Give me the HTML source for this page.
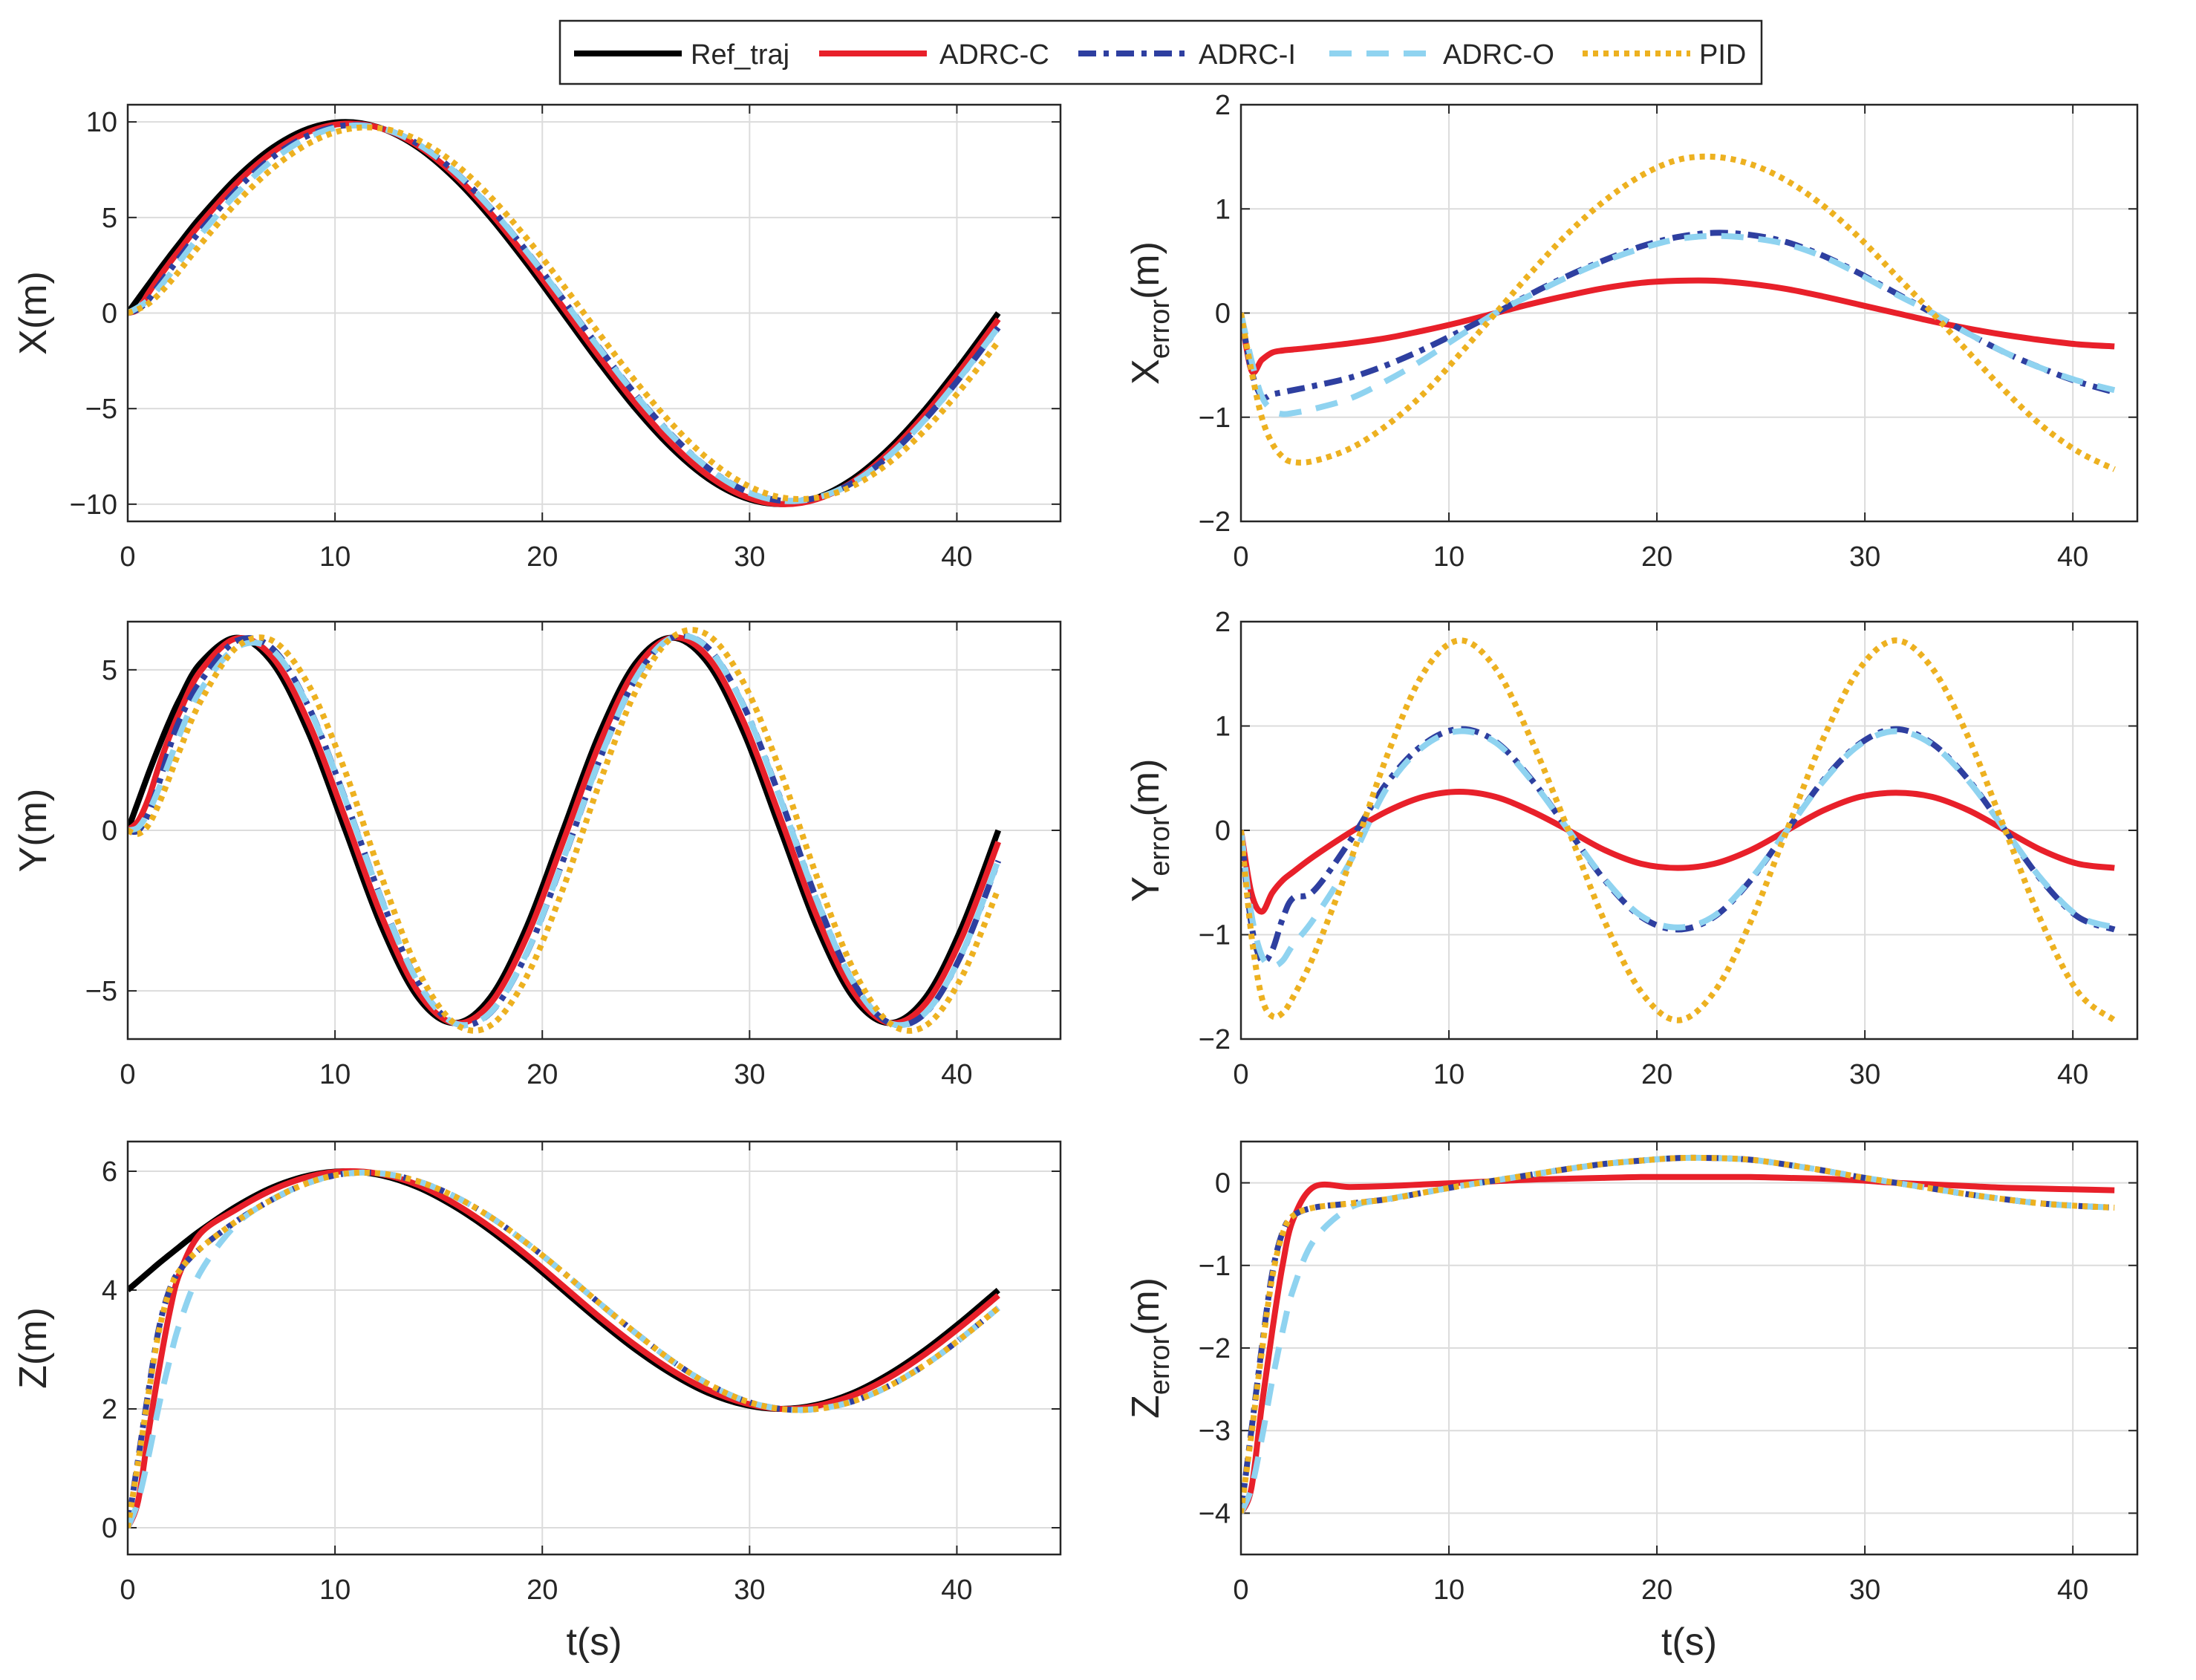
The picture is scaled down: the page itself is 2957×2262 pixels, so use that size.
<!DOCTYPE html>
<html><head><meta charset="utf-8"><style>
html,body{margin:0;padding:0;background:#fff}
svg{display:block}
text{font-family:"Liberation Sans",Arial,sans-serif;fill:#262626}
</style></head><body>
<svg id="fig" width="2957" height="2262" viewBox="0 0 2957 2262" xmlns="http://www.w3.org/2000/svg">
<rect width="2957" height="2262" fill="#fff"/>
<g id="legend">
<rect x="754" y="28" width="1618" height="85" fill="#fff" stroke="#262626" stroke-width="2.5"/>
<g><line x1="773" y1="72" x2="918" y2="72" stroke="#000" stroke-width="8"/><text x="930" y="86" font-size="38">Ref_traj</text></g>
<g><line x1="1103" y1="72" x2="1248" y2="72" stroke="#E8202A" stroke-width="8"/><text x="1265" y="86" font-size="38">ADRC-C</text></g>
<g><line x1="1452" y1="72" x2="1599" y2="72" stroke="#2E3FA0" stroke-width="8" stroke-dasharray="24,10,7,10"/><text x="1614" y="86" font-size="38">ADRC-I</text></g>
<g><line x1="1790" y1="72" x2="1933" y2="72" stroke="#8FD3F0" stroke-width="8" stroke-dasharray="30,20"/><text x="1943" y="86" font-size="38">ADRC-O</text></g>
<g><line x1="2131" y1="72" x2="2276" y2="72" stroke="#EDB120" stroke-width="8" stroke-dasharray="7,7"/><text x="2288" y="86" font-size="38">PID</text></g>
</g>
</svg>
<script>
const t = [0,0.5,1,1.5,2,2.5,3.5,5.25,7,8.75,10.5,12.25,14,15.75,17.5,19.25,21,22.75,24.5,26.25,28,29.75,31.5,33.25,35,36.75,38.5,40.25,42];
const xTicks = [0,10,20,30,40];
// reference trajectories
const refX = [0,0.75,1.49,2.23,2.95,3.65,5.0,7.07,8.66,9.66,10,9.66,8.66,7.07,5.0,2.59,0,-2.59,-5,-7.07,-8.66,-9.66,-10,-9.66,-8.66,-7.07,-5,-2.59,0];
const refY = [0,0.89,1.77,2.60,3.38,4.08,5.20,6,5.20,3,0,-3,-5.2,-6,-5.2,-3,0,3,5.2,6,5.2,3,0,-3,-5.2,-6,-5.2,-3,0];
const refZ = [4,4.15,4.30,4.45,4.59,4.73,5,5.41,5.73,5.93,6,5.93,5.73,5.41,5,4.52,4,3.48,3,2.59,2.27,2.07,2,2.07,2.27,2.59,3,3.48,4];
// X errors
const exC = [0,-0.55,-0.45,-0.38,-0.36,-0.35,-0.33,-0.29,-0.24,-0.17,-0.09,0.0,0.09,0.17,0.24,0.29,0.31,0.31,0.28,0.23,0.16,0.08,0.0,-0.08,-0.15,-0.21,-0.26,-0.3,-0.32];
const exI = [0,-0.55,-0.8,-0.78,-0.76,-0.74,-0.7,-0.62,-0.5,-0.35,-0.18,0.0,0.19,0.36,0.51,0.64,0.73,0.77,0.75,0.68,0.55,0.38,0.19,0.0,-0.2,-0.38,-0.53,-0.66,-0.76];
const exO = [0,-0.45,-0.8,-0.93,-0.97,-0.96,-0.92,-0.82,-0.65,-0.45,-0.22,0.0,0.18,0.35,0.5,0.62,0.71,0.74,0.72,0.66,0.54,0.37,0.18,0.0,-0.2,-0.38,-0.53,-0.65,-0.74];
const exP = [0,-0.55,-1.0,-1.25,-1.38,-1.43,-1.42,-1.3,-1.08,-0.78,-0.4,0.0,0.4,0.77,1.08,1.32,1.47,1.5,1.43,1.27,1.03,0.72,0.36,0.0,-0.38,-0.75,-1.08,-1.33,-1.5];
// Y errors
const eyC = [0,-0.6,-0.78,-0.6,-0.48,-0.4,-0.25,-0.02,0.18,0.32,0.37,0.32,0.18,0.0,-0.19,-0.32,-0.36,-0.32,-0.19,0.0,0.19,0.32,0.36,0.32,0.19,0.0,-0.19,-0.32,-0.36];
const eyI = [0,-0.9,-1.25,-1.15,-0.85,-0.65,-0.58,-0.1,0.45,0.82,0.97,0.85,0.48,0.0,-0.48,-0.83,-0.95,-0.83,-0.48,0.0,0.48,0.83,0.97,0.83,0.48,0.0,-0.48,-0.83,-0.95];
const eyO = [0,-0.8,-1.2,-1.3,-1.25,-1.1,-0.85,-0.3,0.4,0.8,0.95,0.84,0.47,0.0,-0.47,-0.82,-0.93,-0.82,-0.47,0.0,0.47,0.82,0.95,0.82,0.47,0.0,-0.47,-0.82,-0.93];
const eyP = [0,-1.0,-1.6,-1.78,-1.75,-1.6,-1.2,-0.3,0.7,1.5,1.82,1.55,0.85,0.0,-0.88,-1.55,-1.82,-1.55,-0.88,0.0,0.88,1.55,1.82,1.55,0.88,0.0,-0.88,-1.55,-1.82];
// Z errors
const ezC = [-4,-3.7,-2.7,-1.8,-1.0,-0.45,-0.05,-0.05,-0.04,-0.02,0.0,0.02,0.04,0.05,0.06,0.07,0.07,0.07,0.07,0.06,0.05,0.03,0.0,-0.02,-0.04,-0.06,-0.07,-0.08,-0.09];
const ezI = [-4,-3.0,-2.0,-1.1,-0.6,-0.4,-0.3,-0.25,-0.2,-0.12,-0.04,0.03,0.1,0.17,0.23,0.27,0.3,0.3,0.28,0.22,0.15,0.07,0.0,-0.07,-0.14,-0.2,-0.25,-0.28,-0.3];
const ezO = [-4,-3.7,-3.1,-2.4,-1.8,-1.3,-0.7,-0.3,-0.2,-0.12,-0.04,0.03,0.1,0.17,0.23,0.27,0.3,0.3,0.28,0.22,0.15,0.07,0.0,-0.07,-0.14,-0.2,-0.25,-0.28,-0.3];
const ezP = [-4,-3.05,-2.05,-1.15,-0.62,-0.4,-0.3,-0.25,-0.2,-0.12,-0.04,0.03,0.1,0.17,0.23,0.27,0.3,0.3,0.28,0.22,0.15,0.07,0.0,-0.07,-0.14,-0.2,-0.25,-0.28,-0.3];
const yTicksX = [-10,-5,0,5,10];
const yTicksY = [-5,0,5];
const yTicksZ = [0,2,4,6];
const yTicksE = [-2,-1,0,1,2];
const yTicksEZ = [-4,-3,-2,-1,0];

const NS='http://www.w3.org/2000/svg';
const svg=document.getElementById('fig');
function mk(tag,attrs,parent){const e=document.createElementNS(NS,tag);for(const k in attrs)e.setAttribute(k,attrs[k]);(parent||svg).appendChild(e);return e;}
const styles={
 ref:{stroke:'#000','stroke-width':8},
 c:{stroke:'#E8202A','stroke-width':8},
 i:{stroke:'#2E3FA0','stroke-width':8,'stroke-dasharray':'24,10,7,10'},
 o:{stroke:'#8FD3F0','stroke-width':8,'stroke-dasharray':'30,20'},
 p:{stroke:'#EDB120','stroke-width':8,'stroke-dasharray':'7,7'}
};
function add(a,b){return a.map((v,k)=>v+b[k]);}
function smoothPath(pts){
 let d='M'+pts[0][0].toFixed(1)+','+pts[0][1].toFixed(1);
 for(let i=0;i<pts.length-1;i++){
  const p0=pts[Math.max(0,i-1)],p1=pts[i],p2=pts[i+1],p3=pts[Math.min(pts.length-1,i+2)];
  const c1x=p1[0]+(p2[0]-p0[0])/6,c1y=p1[1]+(p2[1]-p0[1])/6;
  const c2x=p2[0]-(p3[0]-p1[0])/6,c2y=p2[1]-(p3[1]-p1[1])/6;
  d+=' C'+c1x.toFixed(1)+','+c1y.toFixed(1)+' '+c2x.toFixed(1)+','+c2y.toFixed(1)+' '+p2[0].toFixed(1)+','+p2[1].toFixed(1);
 }
 return d;
}
const L={x0:172,x1:1428,xmax:45}, R={x0:1671,x1:2878,xmax:43.1};
const rows=[{y0:141,y1:702},{y0:837,y1:1399},{y0:1537,y1:2093}];
const panels=[
 {name:'x-position',col:L,row:rows[0],ymin:-10.9,ymax:10.9,ticks:yTicksX,label:'X(m)',sub:null,series:[['ref',refX],['c',add(refX,exC)],['i',add(refX,exI)],['o',add(refX,exO)],['p',add(refX,exP)]]},
 {name:'x-error',col:R,row:rows[0],ymin:-2,ymax:2,ticks:yTicksE,label:'X',sub:'error',series:[['c',exC],['i',exI],['o',exO],['p',exP]]},
 {name:'y-position',col:L,row:rows[1],ymin:-6.5,ymax:6.5,ticks:yTicksY,label:'Y(m)',sub:null,series:[['ref',refY],['c',add(refY,eyC)],['i',add(refY,eyI)],['o',add(refY,eyO)],['p',add(refY,eyP)]]},
 {name:'y-error',col:R,row:rows[1],ymin:-2,ymax:2,ticks:yTicksE,label:'Y',sub:'error',series:[['c',eyC],['i',eyI],['o',eyO],['p',eyP]]},
 {name:'z-position',col:L,row:rows[2],ymin:-0.45,ymax:6.5,ticks:yTicksZ,label:'Z(m)',sub:null,series:[['ref',refZ],['c',add(refZ,ezC)],['i',add(refZ,ezI)],['o',add(refZ,ezO)],['p',add(refZ,ezP)]]},
 {name:'z-error',col:R,row:rows[2],ymin:-4.5,ymax:0.5,ticks:yTicksEZ,label:'Z',sub:'error',series:[['c',ezC],['i',ezI],['o',ezO],['p',ezP]]}
];
const seriesNames={ref:'ref-traj',c:'adrc-c',i:'adrc-i',o:'adrc-o',p:'pid'};
panels.forEach((P,pi)=>{
 const x0=P.col.x0,x1=P.col.x1,y0=P.row.y0,y1=P.row.y1;
 const sx=v=>x0+(v-0)/(P.col.xmax-0)*(x1-x0);
 const sy=v=>y1-(v-P.ymin)/(P.ymax-P.ymin)*(y1-y0);
 const g=mk('g',{});
 
 
 mk('rect',{x:x0,y:y0,width:x1-x0,height:y1-y0,fill:'#fff'},g);
 xTicks.forEach(v=>{
  const gl=mk('line',{x1:sx(v),x2:sx(v),y1:y0,y2:y1,stroke:'#dcdcdc','stroke-width':2},g);
  
  
  mk('line',{x1:sx(v),x2:sx(v),y1:y1,y2:y1-12,stroke:'#262626','stroke-width':2},g);
  mk('line',{x1:sx(v),x2:sx(v),y1:y0,y2:y0+12,stroke:'#262626','stroke-width':2},g);
  const tl=mk('text',{x:sx(v),y:y1+60,'font-size':38,'text-anchor':'middle'},g);
  tl.textContent=v;
  
  
 });
 P.ticks.forEach(v=>{
  const gl=mk('line',{x1:x0,x2:x1,y1:sy(v),y2:sy(v),stroke:'#dcdcdc','stroke-width':2},g);
  
  
  mk('line',{x1:x0,x2:x0+12,y1:sy(v),y2:sy(v),stroke:'#262626','stroke-width':2},g);
  mk('line',{x1:x1,x2:x1-12,y1:sy(v),y2:sy(v),stroke:'#262626','stroke-width':2},g);
  const tl=mk('text',{x:x0-14,y:sy(v)+13,'font-size':38,'text-anchor':'end'},g);
  tl.textContent=(v<0?'\u2212'+(-v):v);
  
  
 });
 const cp=mk('clipPath',{id:'cp'+pi},g);
 mk('rect',{x:x0,y:y0,width:x1-x0,height:y1-y0},cp);
 const lg=mk('g',{'clip-path':'url(#cp'+pi+')'},g);
 P.series.forEach(([k,vals])=>{
  const pts=vals.map((v,j)=>[sx(t[j]),sy(v)]);
  const a=Object.assign({d:smoothPath(pts),fill:'none','stroke-linejoin':'round'},styles[k]);
  const pth=mk('path',a,lg);
  
  
 });
 mk('rect',{x:x0,y:y0,width:x1-x0,height:y1-y0,fill:'none',stroke:'#262626','stroke-width':2.5},g);
 const cy=(y0+y1)/2, lx=(P.col===L)?62:1560;
 const yl=mk('text',{x:lx,y:cy,'font-size':52,'text-anchor':'middle',transform:'rotate(-90 '+lx+' '+cy+')'},g);
 
 
 if(P.sub){
  const a=mk('tspan',{},yl);a.textContent=P.label;
  const b=mk('tspan',{'font-size':38,dy:14},yl);b.textContent=P.sub;
  const c=mk('tspan',{dy:-14},yl);c.textContent='(m)';
 } else yl.textContent=P.label;
 if(P.row===rows[2]){
  const xl=mk('text',{x:(x0+x1)/2,y:2228,'font-size':52,'text-anchor':'middle'},g);
  xl.textContent='t(s)';
  
  
 }
});
svg.appendChild(document.getElementById('legend'));
</script>
</body></html>
